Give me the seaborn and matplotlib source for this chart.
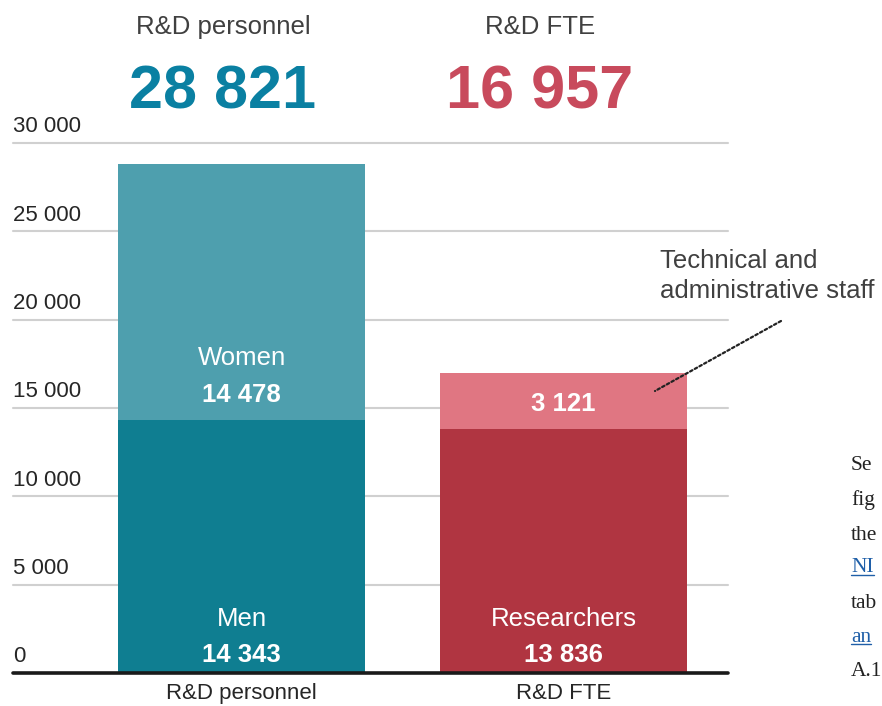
import matplotlib
matplotlib.use("Agg")
import matplotlib.pyplot as plt
import matplotlib.transforms as mtransforms
from matplotlib.lines import Line2D
import seaborn as sns
import pandas as pd

# ---- data ----
categories = ["R&D personnel", "R&D FTE"]
bottom_values = [14343, 13836]
top_values = [14478, 3121]
bottom_names = ["Men", "Researchers"]
top_names = ["Women", ""]
headline_labels = ["R&D personnel", "R&D FTE"]
yticks = [0, 5000, 10000, 15000, 20000, 25000, 30000]
side_text = ["Se", "fig", "the", "NI", "tab", "an", "A.1"]
side_link = [False, False, False, True, False, True, False]

totals = [b + t for b, t in zip(bottom_values, top_values)]

def fmt(v):
    return f"{v:,}".replace(",", " ")

bottom_colors = ["#0f7e91", "#b03541"]
top_colors = ["#4e9fae", "#e07682"]
headline_colors = ["#0a80a2", "#c84a5c"]

sns.set_theme(style="white")
plt.rcParams["font.family"] = ["Liberation Sans", "DejaVu Sans"]

fig = plt.figure(figsize=(8.82, 7.06), dpi=100)
W, H = 882, 706
ax = fig.add_axes([13 / W, 33 / H, (728 - 13) / W, (673 - 143) / H])

df_tot = pd.DataFrame({"cat": categories, "val": totals})
df_bot = pd.DataFrame({"cat": categories, "val": bottom_values})

sns.barplot(data=df_tot, x="cat", y="val", hue="cat", palette=top_colors,
            width=0.767, legend=False, ax=ax, saturation=1, zorder=3,
            linewidth=0, edgecolor="none")
sns.barplot(data=df_bot, x="cat", y="val", hue="cat", palette=bottom_colors,
            width=0.767, legend=False, ax=ax, saturation=1, zorder=3,
            linewidth=0, edgecolor="none")

ax.set_xlim(-0.71, 1.51)
ax.set_ylim(0, 30000)

# gridlines
for v in yticks[1:]:
    ax.axhline(v, color="#d0d0d0", lw=1.5, zorder=1, clip_on=False)
ax.axhline(0, color="#1a1a1a", lw=2.6, zorder=5, clip_on=False)

for s in ax.spines.values():
    s.set_visible(False)
ax.set_yticks([])
ax.set_xlabel("")
ax.set_ylabel("")
ax.set_xticks(range(len(categories)))
ax.set_xticklabels(categories)
ax.tick_params(axis="x", length=0, pad=7, labelsize=16, labelcolor="#262626")

# y tick labels above gridlines, left aligned
trans = mtransforms.blended_transform_factory(ax.transAxes, ax.transData)
for v in yticks:
    ax.annotate(fmt(v), xy=(0, v), xycoords=trans, xytext=(0, 4),
                textcoords="offset points", ha="left", va="bottom",
                fontsize=16, color="#262626")

# labels inside bars
for i in range(len(categories)):
    ax.annotate(bottom_names[i], xy=(i, 0), xytext=(0, 39), textcoords="offset points",
                ha="center", va="center", fontsize=18.5, color="white", zorder=6)
    ax.annotate(fmt(bottom_values[i]), xy=(i, 0), xytext=(0, 13), textcoords="offset points",
                ha="center", va="center", fontsize=18.5, color="white",
                fontweight="bold", zorder=6)
    if top_names[i]:
        ax.annotate(top_names[i], xy=(i, bottom_values[i]), xytext=(0, 44),
                    textcoords="offset points", ha="center", va="center",
                    fontsize=18.5, color="white", zorder=6)
    ax.annotate(fmt(top_values[i]), xy=(i, bottom_values[i]), xytext=(0, 18),
                textcoords="offset points", ha="center", va="center",
                fontsize=18.5, color="white", fontweight="bold", zorder=6)

# headline labels
head_x = [223, 540]
for i in range(len(categories)):
    fig.text(head_x[i] / W, 1 - 27 / H, headline_labels[i], ha="center", va="center",
             fontsize=18.5, color="#404040")
    fig.text(head_x[i] / W, 1 - 93 / H, fmt(totals[i]), ha="center", va="center",
             fontsize=44, color=headline_colors[i], fontweight="bold")

# annotation for technical and administrative staff
fig.text(660 / W, 1 - 276 / H, "Technical and\nadministrative staff", ha="left",
         va="center", fontsize=18.5, color="#404040", linespacing=1.3)
ax.annotate("", xy=(655 / W, 1 - 391 / H), xycoords="figure fraction",
            xytext=(781 / W, 1 - 321 / H), textcoords="figure fraction",
            arrowprops=dict(arrowstyle="-", linestyle=(0, (1.2, 1.2)), color="#222222",
                            lw=1.6, shrinkA=0, shrinkB=0), zorder=7)

# side text from surrounding document (cut at the right edge in the source)
ys = [465, 500, 535, 568, 603, 637, 672]
side_objs = []
for t, y, link in zip(side_text, ys, side_link):
    txt = fig.text(851 / W, 1 - y / H, t, ha="left", va="center", fontsize=15.5,
                   family=["Liberation Serif", "DejaVu Serif"],
                   color="#1f5fa8" if link else "#222222")
    side_objs.append((txt, link))

fig.canvas.draw()
inv = fig.transFigure.inverted()
for txt, link in side_objs:
    if link:
        bb = txt.get_window_extent()
        (x0, y0), (x1, _) = inv.transform([(bb.x0, bb.y0 + 3), (bb.x1, bb.y0 + 3)])
        fig.add_artist(Line2D([x0, x1], [y0, y0], transform=fig.transFigure,
                              color="#1f5fa8", lw=1.0))

fig.savefig("out.png", dpi=100)
